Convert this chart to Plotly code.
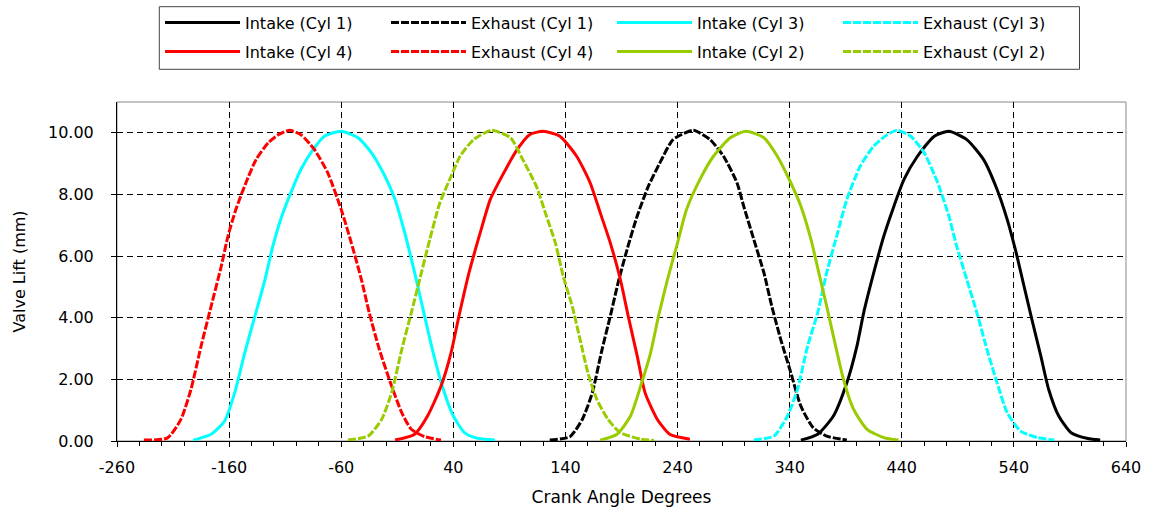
import plotly.graph_objects as go

# ---- data (crank angle in degrees, lift in mm) ----
exh_cyl4_deg = [-236, -215, -203, -194, -185, -176, -167, -161, -154, -145, -136, -125, -116, -106,
                -96, -84, -72, -60, -51, -42, -35, -26, -15, -6, 2.5, 14.5, 29]
exh_cyl4_lift = [0.03, 0.10, 0.70, 1.68, 3.08, 4.38, 5.67, 6.65, 7.51, 8.38, 9.13, 9.68, 9.94, 10.08,
                 9.94, 9.46, 8.70, 7.51, 6.43, 5.24, 4.16, 2.97, 1.78, 0.92, 0.38, 0.14, 0.03]

int_cyl3_deg = [-192, -176, -164, -155, -146, -137, -128, -121, -114, -105, -96, -85, -75, -60,
                -45, -33, -21, -12, -3.4, 5.5, 13, 22, 31, 40, 50, 60, 77]
int_cyl3_lift = [0.03, 0.22, 0.65, 1.57, 2.87, 4.05, 5.24, 6.32, 7.19, 8.05, 8.81, 9.46, 9.89, 10.05,
                 9.84, 9.35, 8.59, 7.84, 6.76, 5.46, 4.27, 2.87, 1.68, 0.81, 0.27, 0.10, 0.03]

exh_cyl2_deg = [-54, -36, -24, -15, -6, 2.5, 10, 19, 28, 38, 46, 58, 74,
                91, 102, 114, 123, 131, 138, 146, 153, 160, 168, 178, 189, 207, 219]
exh_cyl2_lift = [0.03, 0.16, 0.70, 1.57, 2.97, 4.16, 5.24, 6.54, 7.73, 8.59, 9.24, 9.78, 10.08,
                 9.84, 9.13, 8.27, 7.30, 6.43, 5.35, 4.38, 3.30, 2.22, 1.35, 0.70, 0.27, 0.06, 0.02]

int_cyl4_deg = [-12, 5.5, 17, 29, 38, 45, 54, 64, 73, 85, 97, 108, 120,
                135, 150, 162, 171, 180, 189, 196, 204, 211, 222, 233, 251]
int_cyl4_lift = [0.03, 0.22, 0.81, 1.78, 2.87, 4.05, 5.46, 6.76, 7.84, 8.70, 9.46, 9.94, 10.05,
                 9.89, 9.24, 8.38, 7.41, 6.43, 5.24, 4.05, 2.76, 1.57, 0.70, 0.22, 0.06]

exh_cyl1_deg = [126, 144, 155, 164, 172, 180, 187, 195, 204, 214, 225, 236, 254,
                269, 281, 293, 299, 308, 317, 324, 332, 341, 350, 361, 373, 391]
exh_cyl1_lift = [0.03, 0.14, 0.70, 1.57, 2.87, 4.05, 5.14, 6.22, 7.30, 8.27, 9.08, 9.78, 10.08,
                 9.78, 9.24, 8.38, 7.62, 6.54, 5.46, 4.38, 3.30, 2.22, 1.13, 0.43, 0.16, 0.03]

int_cyl2_deg = [171, 186, 198, 208, 216, 223, 231, 240, 248, 260, 272, 287, 301,
                317, 329, 341, 350, 359, 366, 373, 381, 388, 397, 409, 424, 437]
int_cyl2_lift = [0.03, 0.22, 0.81, 1.89, 2.87, 4.05, 5.24, 6.43, 7.51, 8.49, 9.24, 9.84, 10.05,
                 9.84, 9.24, 8.38, 7.62, 6.54, 5.46, 4.38, 3.08, 2.00, 1.03, 0.38, 0.11, 0.03]

exh_cyl3_deg = [308, 326, 338, 347, 356, 365, 373, 382, 391, 403, 415, 427, 436,
                448, 460, 472, 482, 489, 498, 507, 516, 525, 534, 546, 561, 576]
exh_cyl3_lift = [0.03, 0.16, 0.81, 1.68, 3.08, 4.16, 5.46, 6.65, 7.84, 8.92, 9.57, 9.94, 10.08,
                 9.89, 9.35, 8.38, 7.30, 6.32, 5.24, 4.16, 2.97, 1.89, 0.92, 0.32, 0.11, 0.03]

int_cyl1_deg = [350, 365, 379, 391, 400, 406, 415, 424, 433, 442, 454, 469, 482,
                498, 513, 525, 534, 542, 549, 556, 564, 571, 580, 591, 606, 617]
int_cyl1_lift = [0.03, 0.22, 0.81, 1.89, 3.08, 4.16, 5.46, 6.65, 7.62, 8.49, 9.24, 9.89, 10.05,
                 9.78, 9.13, 8.16, 7.19, 6.11, 5.03, 3.95, 2.76, 1.68, 0.81, 0.27, 0.08, 0.03]

x_ticks = [-260, -160, -60, 40, 140, 240, 340, 440, 540, 640]
y_ticks = [0, 2, 4, 6, 8, 10]

BLACK = "#000000"
CYAN = "#00FFFF"
RED = "#FF0000"
GREEN = "#99CC00"
DASH = "8px,2px"

# (name, x, y, colour, dash, legend row)
series = [
    ("Intake (Cyl 1)", int_cyl1_deg, int_cyl1_lift, BLACK, "solid", "legend"),
    ("Exhaust (Cyl 1)", exh_cyl1_deg, exh_cyl1_lift, BLACK, DASH, "legend"),
    ("Intake (Cyl 3)", int_cyl3_deg, int_cyl3_lift, CYAN, "solid", "legend"),
    ("Exhaust (Cyl 3)", exh_cyl3_deg, exh_cyl3_lift, CYAN, DASH, "legend"),
    ("Intake (Cyl 4)", int_cyl4_deg, int_cyl4_lift, RED, "solid", "legend2"),
    ("Exhaust (Cyl 4)", exh_cyl4_deg, exh_cyl4_lift, RED, DASH, "legend2"),
    ("Intake (Cyl 2)", int_cyl2_deg, int_cyl2_lift, GREEN, "solid", "legend2"),
    ("Exhaust (Cyl 2)", exh_cyl2_deg, exh_cyl2_lift, GREEN, DASH, "legend2"),
]

fig = go.Figure()
for name, xs, ys, color, dash, leg in series:
    fig.add_trace(go.Scatter(
        x=xs, y=ys, mode="lines", name=name, legend=leg,
        line=dict(color=color, width=3, dash=dash, shape="spline", smoothing=0.6),
    ))

FONT = "DejaVu Sans, Verdana, sans-serif"

legend_common = dict(
    orientation="h",
    xref="container", yref="container",
    x=160 / 1149, xanchor="left",
    yanchor="middle",
    borderwidth=0, bgcolor="rgba(0,0,0,0)",
    font=dict(family=FONT, size=16, color="black"),
    entrywidthmode="pixels", entrywidth=136,
    itemwidth=75,
)

fig.update_layout(
    width=1149, height=508,
    margin=dict(l=117, r=23, t=102, b=67, autoexpand=False),
    paper_bgcolor="white", plot_bgcolor="white",
    font=dict(family=FONT, color="black", size=16),
    showlegend=True,
    legend=dict(**legend_common, y=1 - 22.7 / 508),
    legend2=dict(**legend_common, y=1 - 51.7 / 508),
)

fig.update_xaxes(
    range=[-260, 640], tickvals=x_ticks, ticktext=[str(v) for v in x_ticks],
    showline=True, linecolor="black", linewidth=1,
    ticks="outside", ticklen=5, tickcolor="black",
    minor=dict(dtick=20, tick0=-260, ticks="outside", ticklen=4, tickcolor="black", showgrid=False),
    showgrid=True, gridcolor="#000000", gridwidth=1, griddash="6px,4px",
    zeroline=False, automargin=False,
    ticklabelstandoff=7,
    title=dict(text="Crank Angle Degrees", font=dict(size=17), standoff=14),
    tickfont=dict(size=16),
)
fig.update_yaxes(
    range=[0, 11], tickvals=y_ticks, tickformat=".2f",
    showline=True, linecolor="black", linewidth=1,
    ticks="outside", ticklen=5, tickcolor="black",
    showgrid=True, gridcolor="#000000", gridwidth=1, griddash="6px,4px",
    zeroline=False, automargin=False,
    ticklabelstandoff=14,
    title=dict(text="Valve Lift (mm)", font=dict(size=16), standoff=18),
    tickfont=dict(size=16),
)

# grey frame around plot area (top / right edges)
fig.add_shape(type="rect", xref="paper", yref="paper", x0=0, y0=0, x1=1, y1=1,
              line=dict(color="#888888", width=1), layer="below")
# legend frame
fig.add_shape(type="rect", xref="paper", yref="paper",
              x0=(159.3 - 117) / 1009, x1=(1079.5 - 117) / 1009,
              y0=(441 - 69.3) / 339, y1=(441 - 6.7) / 339,
              line=dict(color="#444444", width=1))

fig.write_html("out.html")
